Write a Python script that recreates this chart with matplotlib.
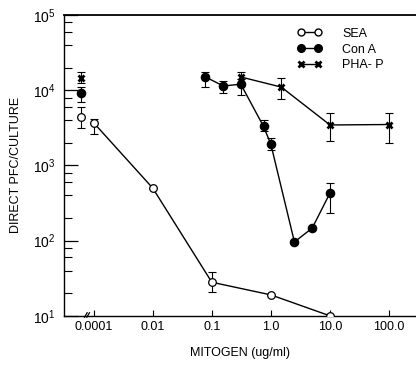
import numpy as np
import matplotlib
matplotlib.use("Agg")
import matplotlib.pyplot as plt
from matplotlib.lines import Line2D
from matplotlib.ticker import FixedLocator, NullFormatter

plt.rcParams['font.family'] = ['Liberation Sans', 'DejaVu Sans']

# concentration 0 = control (no mitogen), drawn left of the axis break
sea_conc = [0, 0.0001, 0.01, 0.1, 1.0, 10.0]
sea_val = [4400, 3700, 500, 28, 19, 10]
sea_hi = [5900, 4200, 500, 38, 19, 10]
sea_lo = [3100, 2600, 500, 21, 19, 10]

cona_conc = [0, 0.078, 0.156, 0.31, 0.75, 1.0, 2.5, 5.0, 10.0]
cona_val = [9100, 15000, 11400, 12000, 3300, 1900, 96, 147, 430]
cona_hi = [11000, 17500, 13300, 14000, 4000, 2300, 96, 147, 590]
cona_lo = [7000, 11000, 9200, 8600, 2900, 1600, 96, 147, 235]

pha_conc = [0, 0.31, 1.5, 10.0, 100.0]
pha_val = [14500, 15000, 11000, 3450, 3500]
pha_hi = [17500, 17500, 14500, 5000, 5000]
pha_lo = [12500, 12000, 7600, 2100, 2000]

tick_pos = [1e-3, 1e-2, 1e-1, 1, 10, 100]
tick_labels = ['0.0001', '0.01', '0.1', '1.0', '10.0', '100.0']

CTRL_POS = 6.1e-4   # where the control points sit on the broken axis
BREAK_POS = 1e-3    # where 0.0001 sits on the broken axis


def xpos(conc):
    out = []
    for c in conc:
        if c == 0:
            out.append(CTRL_POS)
        elif c == 1e-4:
            out.append(BREAK_POS)
        else:
            out.append(c)
    return np.array(out)


def draw_series(ax, conc, val, hi, lo, marker, mfc, ms, mew):
    x = xpos(conc)
    val = np.array(val, dtype=float)
    yerr = [val - np.array(lo), np.array(hi) - val]
    ax.errorbar(x, val, yerr=yerr, fmt='none', ecolor='black',
                elinewidth=0.8, capsize=3, capthick=0.8, zorder=2)
    conn = np.array(conc) > 0
    ax.plot(x[conn], val[conn], '-', color='black', lw=1.0, zorder=3)
    ax.plot(x, val, linestyle='none', marker=marker, mfc=mfc, mec='black',
            ms=ms, mew=mew, zorder=4)


fig = plt.figure(figsize=(4.16, 3.66), dpi=100)
ax = fig.add_axes([0.154, 0.137, 0.846, 0.822])
ax.set_xscale('log')
ax.set_yscale('log')
ax.set_xlim(10 ** -3.50, 10 ** 2.455)
ax.set_ylim(10, 1e5)

draw_series(ax, sea_conc, sea_val, sea_hi, sea_lo, 'o', 'white', 5.5, 0.9)
draw_series(ax, cona_conc, cona_val, cona_hi, cona_lo, 'o', 'black', 6, 0.9)
draw_series(ax, pha_conc, pha_val, pha_hi, pha_lo, 'x', 'black', 5, 2.0)

ax.spines['right'].set_visible(False)
for s in ['left', 'bottom']:
    ax.spines[s].set_linewidth(1.0)
ax.spines['top'].set_linewidth(1.3)

ax.xaxis.set_major_locator(FixedLocator(tick_pos))
ax.set_xticklabels(tick_labels)
ax.xaxis.set_minor_locator(FixedLocator([]))
ax.tick_params(axis='x', which='major', direction='in', length=4, width=0.8,
               labelsize=9, pad=4, top=False)

ax.yaxis.set_major_locator(FixedLocator([10, 100, 1000, 1e4, 1e5]))
ax.set_yticklabels([r'$\mathregular{10^{1}}$', r'$\mathregular{10^{2}}$',
                    r'$\mathregular{10^{3}}$', r'$\mathregular{10^{4}}$',
                    r'$\mathregular{10^{5}}$'])
minor = [m * 10 ** e for e in range(1, 5) for m in (2, 4, 6, 8)]
ax.yaxis.set_minor_locator(FixedLocator(minor))
ax.yaxis.set_minor_formatter(NullFormatter())
ax.tick_params(axis='y', which='major', direction='in', length=10, width=0.9,
               labelsize=10, pad=6, right=False)
ax.tick_params(axis='y', which='minor', direction='in', length=6, width=0.8,
               right=False)

# axis break marks
for xb in (7.4e-4, 8.1e-4):
    ax.plot([xb * 0.95, xb * 1.05], [9.6, 11.0], color='black', lw=0.9,
            clip_on=False, zorder=5)

ax.set_xlabel('MITOGEN (ug/ml)', fontsize=9, labelpad=10)
ax.set_ylabel('DIRECT PFC/CULTURE', fontsize=9, labelpad=8)

handles = [
    Line2D([], [], color='black', lw=1, marker='o', mfc='white', mec='black', ms=5),
    Line2D([], [], color='black', lw=1, marker='o', mfc='black', mec='black', ms=5.5),
    Line2D([], [], color='black', lw=1, marker='x', mfc='black', mec='black', ms=5, mew=2),
]
ax.legend(handles, ['SEA', 'Con A', 'PHA- P'], loc='upper left',
          bbox_to_anchor=(0.63, 0.995), frameon=False, fontsize=9,
          handlelength=2.0, handletextpad=1.6, labelspacing=0.3,
          numpoints=2, markerfirst=True)

fig.savefig('out.png', dpi=100)
